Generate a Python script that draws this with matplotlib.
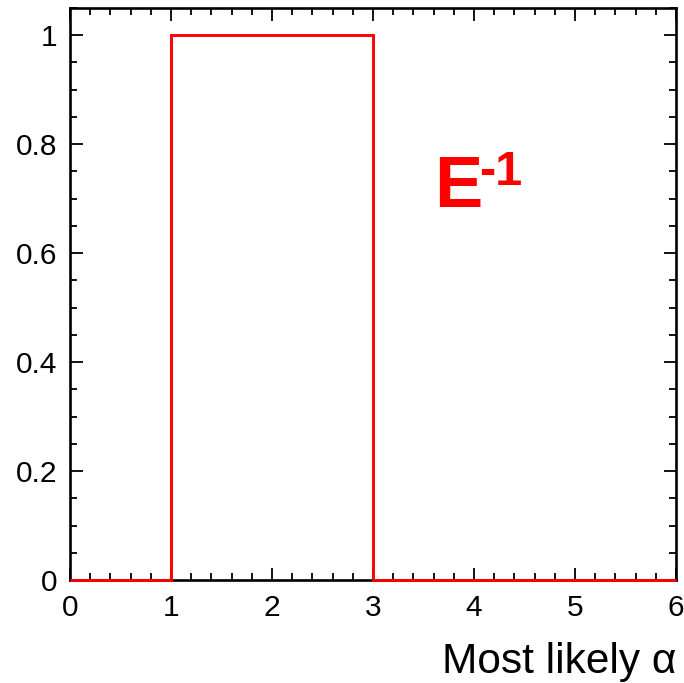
import matplotlib
matplotlib.use('Agg')
import matplotlib.pyplot as plt
import numpy as np
from matplotlib.ticker import MultipleLocator

plt.rcParams['font.family'] = ['Liberation Sans', 'DejaVu Sans']

# histogram: fraction of trials with given most likely alpha
bin_edges = [0, 1, 2, 3, 4, 5, 6]
bin_values = [0, 1, 1, 0, 0, 0]
x_ticks = [0, 1, 2, 3, 4, 5, 6]
y_ticks = [0, 0.2, 0.4, 0.6, 0.8, 1.0]
y_tick_labels = ['0', '0.2', '0.4', '0.6', '0.8', '1']

fig = plt.figure(figsize=(6.84, 6.83), dpi=100)
ax = fig.add_axes([70/684, 1 - 580/683, 606/684, 572/683])

ax.stairs(bin_values, bin_edges, color='#ff0000', linewidth=2.1,
          baseline=0, fill=False, clip_on=False, zorder=3)

ax.set_xlim(0, 6)
ax.set_ylim(0, 1.05)
ax.set_xticks(x_ticks)
ax.set_xticklabels([str(t) for t in x_ticks])
ax.set_yticks(y_ticks)
ax.set_yticklabels(y_tick_labels)
ax.xaxis.set_minor_locator(MultipleLocator(0.2))
ax.yaxis.set_minor_locator(MultipleLocator(0.05))

for s in ax.spines.values():
    s.set_linewidth(1.9)
ax.tick_params(which='both', direction='in', top=True, right=True, width=1.3)
ax.tick_params(which='major', length=9, labelsize=21.5)
ax.tick_params(axis='y', which='major', pad=9)
ax.tick_params(axis='x', which='major', pad=10)
ax.tick_params(which='minor', length=5)
ax.tick_params(top=True, right=True, labeltop=False, labelright=False)

ax.set_xlabel('Most likely α', fontsize=30.5, ha='right', va='baseline')
ax.xaxis.set_label_coords(1.0, -0.1626)

# E^-1 annotation
ax.text(3.61, 0.684, 'E', color='#ff0000', fontsize=52, fontweight='bold',
        ha='left', va='baseline')
ax.text(4.05, 0.725, '-1', color='#ff0000', fontsize=35, fontweight='bold',
        ha='left', va='baseline')

fig.savefig('out.png', dpi=100)
